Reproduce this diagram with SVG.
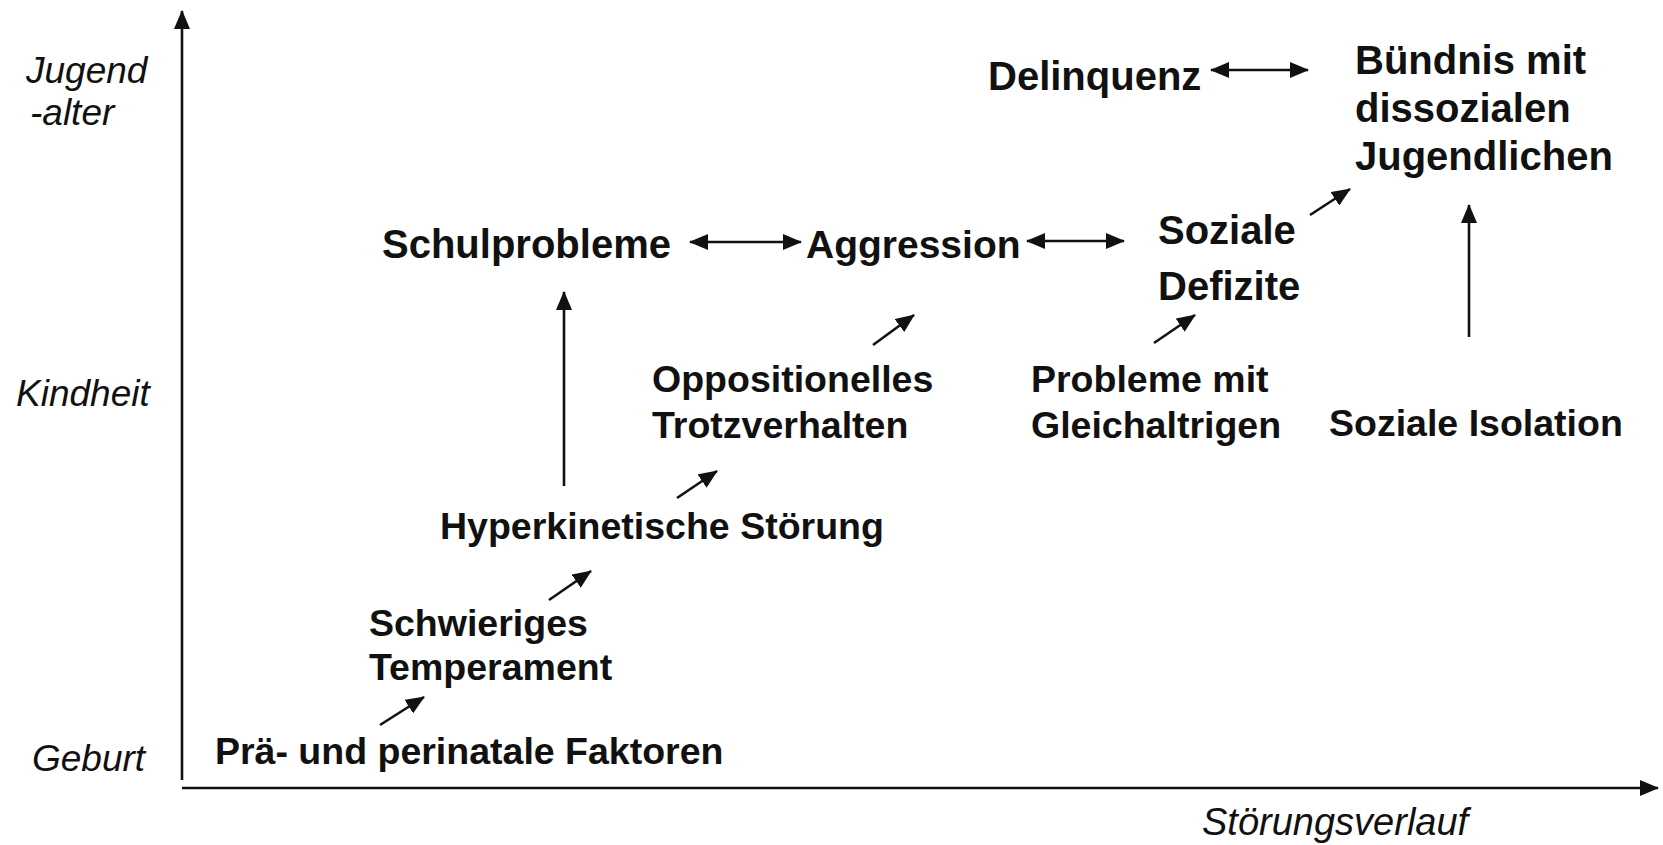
<svg xmlns="http://www.w3.org/2000/svg" width="1663" height="845" viewBox="0 0 1663 845">
<defs>
<style>
.ax{font-family:"Liberation Sans",Arial,sans-serif;font-style:italic;font-size:37px;fill:#111}
.b{font-family:"Liberation Sans",Arial,sans-serif;font-weight:bold;fill:#111}
.u{font-size:40px}
.l{font-size:37.5px}
.ln{stroke:#111;stroke-width:2.6;fill:none}
</style>
<marker id="ah" markerUnits="userSpaceOnUse" markerWidth="20" markerHeight="16" refX="18" refY="8" orient="auto-start-reverse">
<path d="M0,0 L19,8 L0,16 Z" fill="#111"/>
</marker>
<marker id="axh" markerUnits="userSpaceOnUse" markerWidth="20" markerHeight="16" refX="18" refY="8" orient="auto">
<path d="M0,0 L19,8 L0,16 Z" fill="#111"/>
</marker>
</defs>
<rect width="1663" height="845" fill="#fff"/>

<g id="axes">
<line class="ln" x1="182" y1="780" x2="182" y2="11" marker-end="url(#axh)"/>
<line class="ln" x1="182" y1="788" x2="1658" y2="788" marker-end="url(#axh)"/>
<text class="ax" x="26" y="83">Jugend</text>
<text class="ax" x="30" y="125">-alter</text>
<text class="ax" x="16" y="406">Kindheit</text>
<text class="ax" x="32" y="771">Geburt</text>
<text class="ax" x="1202" y="835" style="font-size:38px">Störungsverlauf</text>
</g>

<g id="n-delinquenz"><text class="b u" x="988" y="90">Delinquenz</text></g>
<g id="n-buendnis">
<text class="b u" x="1355" y="74">Bündnis mit</text>
<text class="b u" x="1355" y="122">dissozialen</text>
<text class="b u" x="1355" y="170">Jugendlichen</text>
</g>
<g id="n-schulprobleme"><text class="b u" x="382" y="258">Schulprobleme</text></g>
<g id="n-aggression"><text class="b u" x="806" y="258" style="font-size:39px">Aggression</text></g>
<g id="n-soziale-defizite">
<text class="b u" x="1158" y="244">Soziale</text>
<text class="b u" x="1158" y="300">Defizite</text>
</g>
<g id="n-oppositionelles">
<text class="b l" x="652" y="392">Oppositionelles</text>
<text class="b l" x="652" y="438">Trotzverhalten</text>
</g>
<g id="n-probleme">
<text class="b l" x="1031" y="392">Probleme mit</text>
<text class="b l" x="1031" y="438">Gleichaltrigen</text>
</g>
<g id="n-isolation"><text class="b l" x="1329" y="436">Soziale Isolation</text></g>
<g id="n-hyperkinetisch"><text class="b l" x="440" y="539">Hyperkinetische Störung</text></g>
<g id="n-temperament">
<text class="b l" x="369" y="636">Schwieriges</text>
<text class="b l" x="369" y="680">Temperament</text>
</g>
<g id="n-praenatal"><text class="b l" x="215" y="764">Prä- und perinatale Faktoren</text></g>

<g id="connectors">
<line class="ln" x1="690" y1="242" x2="801" y2="242" marker-start="url(#ah)" marker-end="url(#ah)"/>
<line class="ln" x1="1027" y1="241" x2="1124" y2="241" marker-start="url(#ah)" marker-end="url(#ah)"/>
<line class="ln" x1="1211" y1="70" x2="1308" y2="70" marker-start="url(#ah)" marker-end="url(#ah)"/>
<line class="ln" x1="1310" y1="215" x2="1350" y2="189" marker-end="url(#ah)"/>
<line class="ln" x1="1469" y1="337" x2="1469" y2="205" marker-end="url(#ah)"/>
<line class="ln" x1="873" y1="345" x2="914" y2="315" marker-end="url(#ah)"/>
<line class="ln" x1="1154" y1="343" x2="1195" y2="315" marker-end="url(#ah)"/>
<line class="ln" x1="564" y1="486" x2="564" y2="292" marker-end="url(#ah)"/>
<line class="ln" x1="677" y1="498" x2="717" y2="471" marker-end="url(#ah)"/>
<line class="ln" x1="549" y1="600" x2="591" y2="571" marker-end="url(#ah)"/>
<line class="ln" x1="380" y1="725" x2="424" y2="697" marker-end="url(#ah)"/>
</g>
</svg>
